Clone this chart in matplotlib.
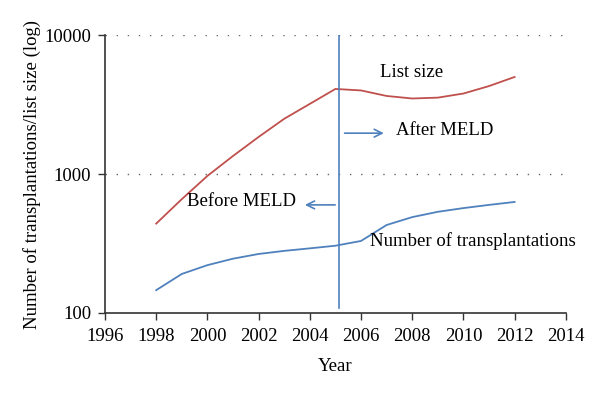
import matplotlib
matplotlib.use("Agg")
import matplotlib.pyplot as plt

years = [1998, 1999, 2000, 2001, 2002, 2003, 2004, 2005, 2006, 2007, 2008, 2009, 2010, 2011, 2012]
list_size = [440, 660, 970, 1350, 1850, 2500, 3200, 4100, 4000, 3650, 3500, 3550, 3800, 4300, 5000]
transplants = [146, 191, 221, 246, 266, 280, 292, 305, 330, 430, 490, 535, 569, 600, 630]
meld_year = 2005.15

plt.rcParams['font.family'] = ['Liberation Serif', 'DejaVu Serif']

fig = plt.figure(figsize=(6, 3.95), dpi=100)
ax = fig.add_axes([0.175, 0.2076, 0.768, 0.7034])
ax.set_yscale('log')
ax.set_xlim(1996, 2014)
ax.set_ylim(100, 10000)

for yv in [1000, 10000]:
    ax.axhline(yv, color='#666666', lw=1.0, ls=(0, (1, 7)), zorder=0)

ax.plot(years, list_size, color='#C0504D', lw=1.3)
ax.plot(years, transplants, color='#4F81BD', lw=1.3)
ax.plot([meld_year, meld_year], [108, 10000], color='#4F81BD', lw=1.2)

ax.annotate('', xy=(2007.0, 1970), xytext=(meld_year + 0.1, 1970),
            arrowprops=dict(arrowstyle='->', color='#4F81BD', lw=1.2, mutation_scale=14))
ax.annotate('', xy=(2003.7, 600), xytext=(meld_year - 0.05, 600),
            arrowprops=dict(arrowstyle='->', color='#4F81BD', lw=1.2, mutation_scale=14))

fs = 13.5
ax.text(2007.35, 2050, 'After MELD', fontsize=fs, va='center', ha='left')
ax.text(2003.45, 630, 'Before MELD', fontsize=fs, va='center', ha='right')
ax.text(2006.75, 5400, 'List size', fontsize=fs, va='center', ha='left')
ax.text(2006.35, 330, 'Number of transplantations', fontsize=fs, va='center', ha='left')

ax.set_xticks(range(1996, 2015, 2))
ax.set_yticks([100, 1000, 10000])
ax.set_yticklabels(['100', '1000', '10000'])
ax.minorticks_off()
ax.tick_params(axis='both', labelsize=fs, direction='out', length=5, width=1, color='#333333')
ax.tick_params(axis='x', pad=6)
ax.tick_params(axis='y', pad=5)
ax.spines['top'].set_visible(False)
ax.spines['right'].set_visible(False)
for s in ['left', 'bottom']:
    ax.spines[s].set_color('#333333')
    ax.spines[s].set_linewidth(1.2)

ax.set_xlabel('Year', fontsize=fs, labelpad=9)
ax.set_ylabel('Number of transplantations/list size (log)', fontsize=fs, labelpad=2)

fig.savefig('out.png', dpi=100)
